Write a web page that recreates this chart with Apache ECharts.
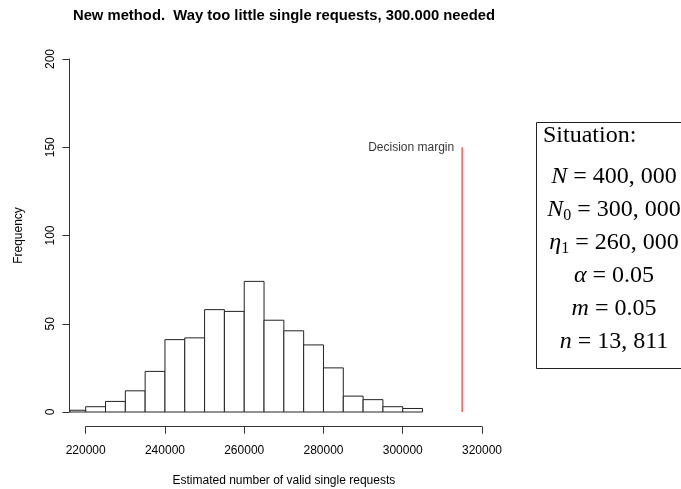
<!DOCTYPE html>
<html>
<head>
<meta charset="utf-8">
<script src="https://cdn.jsdelivr.net/npm/echarts@6/dist/echarts.min.js"></script>
<style>
  html, body { margin: 0; padding: 0; background: #fff; }
  #chart { width: 681px; height: 489px; }
</style>
</head>
<body>
<div id="chart"></div>
<script>
// histogram bins (width 5000) and counts
const binStarts = [215000, 220000, 225000, 230000, 235000, 240000, 245000, 250000, 255000,
                   260000, 265000, 270000, 275000, 280000, 285000, 290000, 295000, 300000];
const binWidth = 5000;
const counts = [1, 3, 6, 12, 23, 41, 42, 58, 57, 74, 52, 46, 38, 25, 9, 7, 3, 2];

const xTicks = [220000, 240000, 260000, 280000, 300000, 320000];
const yTicks = [0, 50, 100, 150, 200];

const decisionX = 315000;
const decisionTop = 150;

const situationLines = [
    '{it|N}{rm| = 400, 000}',
    '{it|N}{sub|0}{rm| = 300, 000}',
    '{it|η}{sub|1}{rm| = 260, 000}',
    '{it|α}{rm| = 0.05}',
    '{it|m}{rm| = 0.05}',
    '{it|n}{rm| = 13, 811}'
];

const xMin = xTicks[0], xMax = xTicks[xTicks.length - 1];
const xClipMin = xMin - 0.04 * (xMax - xMin); // R's 4% axis padding

const histData = binStarts.map((s, i) => [s, s + binWidth, counts[i]]);

const myChart = echarts.init(document.getElementById('chart'));

const serif = 'Liberation Serif';
const rich = {
    it: { fontFamily: serif, fontStyle: 'italic', fontSize: 24, lineHeight: 28, color: '#000' },
    rm: { fontFamily: serif, fontSize: 24, lineHeight: 28, color: '#000' },
    sub: { fontFamily: serif, fontSize: 16, lineHeight: 14, verticalAlign: 'bottom', color: '#000' }
};

const lineY = [177, 210, 243, 276, 309, 342];

const option = {
    animation: false,
    title: {
        text: 'New method.  Way too little single requests, 300.000 needed',
        left: 279,
        top: 3,
        textAlign: 'center',
        textStyle: {
            fontFamily: 'Liberation Sans',
            fontWeight: 'bold',
            fontSize: 14.8,
            color: '#000'
        }
    },
    grid: {
        left: 85.7,
        right: 199,
        top: 59,
        bottom: 77,
        outerBoundsMode: 'none'
    },
    xAxis: {
        type: 'value',
        min: xMin,
        max: xMax,
        interval: 20000,
        offset: 14.7,
        name: 'Estimated number of valid single requests',
        nameLocation: 'middle',
        nameGap: 48,
        nameTextStyle: { fontFamily: 'Liberation Sans', fontSize: 12, color: '#000' },
        axisLine: { show: true, onZero: false, lineStyle: { color: '#333', width: 1 } },
        axisTick: { show: true, length: 7, lineStyle: { color: '#333' } },
        axisLabel: {
            margin: 18,
            fontFamily: 'Liberation Sans',
            fontSize: 12,
            color: '#000',
            showMinLabel: true,
            showMaxLabel: true,
            formatter: v => String(v)
        },
        splitLine: { show: false }
    },
    yAxis: {
        type: 'value',
        min: yTicks[0],
        max: yTicks[yTicks.length - 1],
        interval: 50,
        offset: 16.2,
        name: 'Frequency',
        nameLocation: 'middle',
        nameRotate: 90,
        nameGap: 45,
        nameTextStyle: { fontFamily: 'Liberation Sans', fontSize: 12, color: '#000' },
        axisLine: { show: true, onZero: false, lineStyle: { color: '#333', width: 1 } },
        axisTick: { show: true, length: 7, lineStyle: { color: '#333' } },
        axisLabel: {
            rotate: 90,
            margin: 13,
            fontFamily: 'Liberation Sans',
            fontSize: 12,
            color: '#000'
        },
        splitLine: { show: false }
    },
    series: [
        {
            type: 'custom',
            clip: false,
            data: histData,
            encode: { x: [0, 1], y: 2 },
            renderItem: function (params, api) {
                const x0 = Math.max(api.value(0), xClipMin);
                const p0 = api.coord([x0, api.value(2)]);
                const p1 = api.coord([api.value(1), 0]);
                return {
                    type: 'rect',
                    shape: { x: p0[0], y: p0[1], width: p1[0] - p0[0], height: p1[1] - p0[1] },
                    style: { fill: '#fff', stroke: '#222', lineWidth: 1 }
                };
            }
        },
        {
            type: 'line',
            data: [[decisionX, 0], [decisionX, decisionTop]],
            symbol: 'none',
            lineStyle: { color: '#ff5a5a', width: 1.5 },
            z: 3
        },
        {
            type: 'scatter',
            data: [[decisionX, decisionTop]],
            symbolSize: 0,
            label: {
                show: true,
                position: 'left',
                distance: 8,
                formatter: 'Decision margin',
                fontFamily: 'Liberation Sans',
                fontSize: 12,
                color: '#000'
            }
        }
    ],
    graphic: [
        {
            type: 'rect',
            left: 534,
            top: 120,
            shape: { width: 170, height: 246 },
            style: { fill: 'none', stroke: '#222', lineWidth: 1 }
        },
        {
            type: 'text',
            x: 543,
            y: 136,
            style: {
                text: 'Situation:',
                fontFamily: serif,
                fontSize: 24,
                verticalAlign: 'middle',
                fill: '#000'
            }
        }
    ].concat(situationLines.map((t, i) => ({
        type: 'text',
        x: 614,
        y: lineY[i],
        style: { text: t, rich: rich, align: 'center', verticalAlign: 'middle' }
    })))
};

myChart.setOption(option);
</script>
</body>
</html>
